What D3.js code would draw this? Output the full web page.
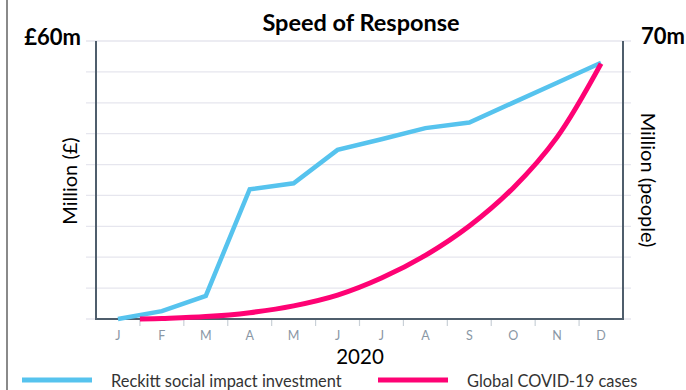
<!DOCTYPE html>
<html>
<head>
<meta charset="utf-8">
<script src="https://cdn.jsdelivr.net/npm/d3@7"></script>
<style>
  html, body { margin: 0; padding: 0; background: #fff; }
  svg { display: block; font-family: Lato, "Noto Sans", sans-serif; }
</style>
</head>
<body>
<svg id="chart" width="686" height="390"></svg>
<script>
// Months of 2020
const months = ["J", "F", "M", "A", "M", "J", "J", "A", "S", "O", "N", "D"];

// Reckitt social impact investment, £ million (left axis)
const investment = [0, 1.7, 5.0, 28.0, 29.3, 36.5, 38.8, 41.2, 42.4, 46.7, 51.0, 55.3];

// Global COVID-19 cases, million people (right axis); positions are month indexes
const casePositions = [0.5, 1, 2, 3, 4, 5, 6, 7, 8, 9, 10, 11];
const cases = [0, 0.15, 0.6, 1.6, 3.3, 6.0, 10.3, 16.0, 23.4, 33.0, 45.8, 64.3];

const leftMax = 60;   // £60m
const rightMax = 70;  // 70m
const gridSteps = 9;

const seriesNames = ["Reckitt social impact investment", "Global COVID-19 cases"];
const colors = ["#56c3ee", "#fe0274"];

const svg = d3.select("#chart");
const plot = { left: 96, right: 623, top: 41, bottom: 319 };

const xBand = d3.scaleBand().domain(d3.range(months.length)).range([plot.left, plot.right]);
const xIdx = d3.scaleLinear()
  .domain([0, months.length - 1])
  .range([plot.left + xBand.bandwidth() / 2, plot.right - xBand.bandwidth() / 2]);
const yLeft = d3.scaleLinear().domain([0, leftMax]).range([plot.bottom, plot.top]);
const yRight = d3.scaleLinear().domain([0, rightMax]).range([plot.bottom, plot.top]);

// page edge rule
svg.append("line")
  .attr("x1", 7).attr("x2", 7).attr("y1", 0).attr("y2", 390)
  .attr("stroke", "#8a8a8a").attr("stroke-width", 2);

// horizontal gridlines
const gridVals = d3.range(gridSteps + 1).map(i => i * leftMax / gridSteps);
svg.append("g").selectAll("line").data(gridVals).join("line")
  .attr("x1", plot.left - 10).attr("x2", plot.right + 8)
  .attr("y1", d => yLeft(d)).attr("y2", d => yLeft(d))
  .attr("stroke", "#e6e6ee").attr("stroke-width", 1.3);

// month tick marks between bands
svg.append("g").selectAll("line").data(d3.range(1, months.length)).join("line")
  .attr("x1", d => xBand(d)).attr("x2", d => xBand(d))
  .attr("y1", plot.bottom).attr("y2", plot.bottom + 7)
  .attr("stroke", "#c9d0d7").attr("stroke-width", 1.2);

// x axis labels
const xAxis = d3.axisBottom(xBand).tickSize(0).tickPadding(0).tickFormat(i => months[i]);
const gx = svg.append("g").attr("transform", `translate(0,${plot.bottom})`).call(xAxis);
gx.select(".domain").remove();
gx.selectAll("text")
  .attr("y", 21).attr("dy", 0)
  .attr("font-family", "Lato, sans-serif")
  .attr("font-size", 12.5).attr("font-weight", 400)
  .attr("fill", "#8a97a5");

// axis frame: left, bottom, right
const frame = d3.path();
frame.moveTo(plot.left, plot.top);
frame.lineTo(plot.left, plot.bottom);
frame.lineTo(plot.right, plot.bottom);
frame.lineTo(plot.right, plot.top);
svg.append("path").attr("d", frame.toString())
  .attr("fill", "none").attr("stroke", "#4f5e6c").attr("stroke-width", 2);

// series lines
const lineInvest = d3.line()
  .x((d, i) => xIdx(i))
  .y(d => yLeft(d));
const lineCases = d3.line()
  .x((d, i) => xIdx(casePositions[i]))
  .y(d => yRight(d))
  .curve(d3.curveCatmullRom.alpha(0.5));

svg.append("path").datum(investment)
  .attr("d", lineInvest)
  .attr("fill", "none").attr("stroke", colors[0])
  .attr("stroke-width", 4.5).attr("stroke-linejoin", "miter");

svg.append("path").datum(cases)
  .attr("d", lineCases)
  .attr("fill", "none").attr("stroke", colors[1])
  .attr("stroke-width", 5);

// title
svg.append("text")
  .attr("x", 361).attr("y", 31)
  .attr("text-anchor", "middle")
  .attr("font-size", 23.5).attr("font-weight", 700).attr("fill", "#000")
  .text("Speed of Response");

// axis end labels
svg.append("text")
  .attr("x", 81).attr("y", 45).attr("text-anchor", "end")
  .attr("font-size", 22).attr("font-weight", 700).attr("fill", "#000")
  .text(`£${leftMax}m`);
svg.append("text")
  .attr("x", 641).attr("y", 44).attr("text-anchor", "start")
  .attr("font-size", 22).attr("font-weight", 700).attr("fill", "#000")
  .text(`${rightMax}m`);

// axis titles
svg.append("text")
  .attr("transform", "translate(77,181) rotate(-90)")
  .attr("text-anchor", "middle")
  .attr("font-size", 20).attr("fill", "#000")
  .text("Million (£)");
svg.append("text")
  .attr("transform", "translate(641,180) rotate(90)")
  .attr("text-anchor", "middle")
  .attr("font-size", 20).attr("fill", "#000")
  .text("Million (people)");

// year label
svg.append("text")
  .attr("x", 360).attr("y", 364).attr("text-anchor", "middle")
  .attr("font-size", 20.5).attr("fill", "#000")
  .text("2020");

// legend
const legend = [
  { x1: 22, x2: 92, tx: 111 },
  { x1: 378, x2: 448, tx: 467 }
];
legend.forEach((d, i) => {
  svg.append("line")
    .attr("x1", d.x1).attr("x2", d.x2).attr("y1", 380).attr("y2", 380)
    .attr("stroke", colors[i]).attr("stroke-width", 5);
  svg.append("text")
    .attr("x", d.tx).attr("y", 387)
    .attr("font-size", 16.4).attr("fill", "#333")
    .text(seriesNames[i]);
});
</script>
</body>
</html>
